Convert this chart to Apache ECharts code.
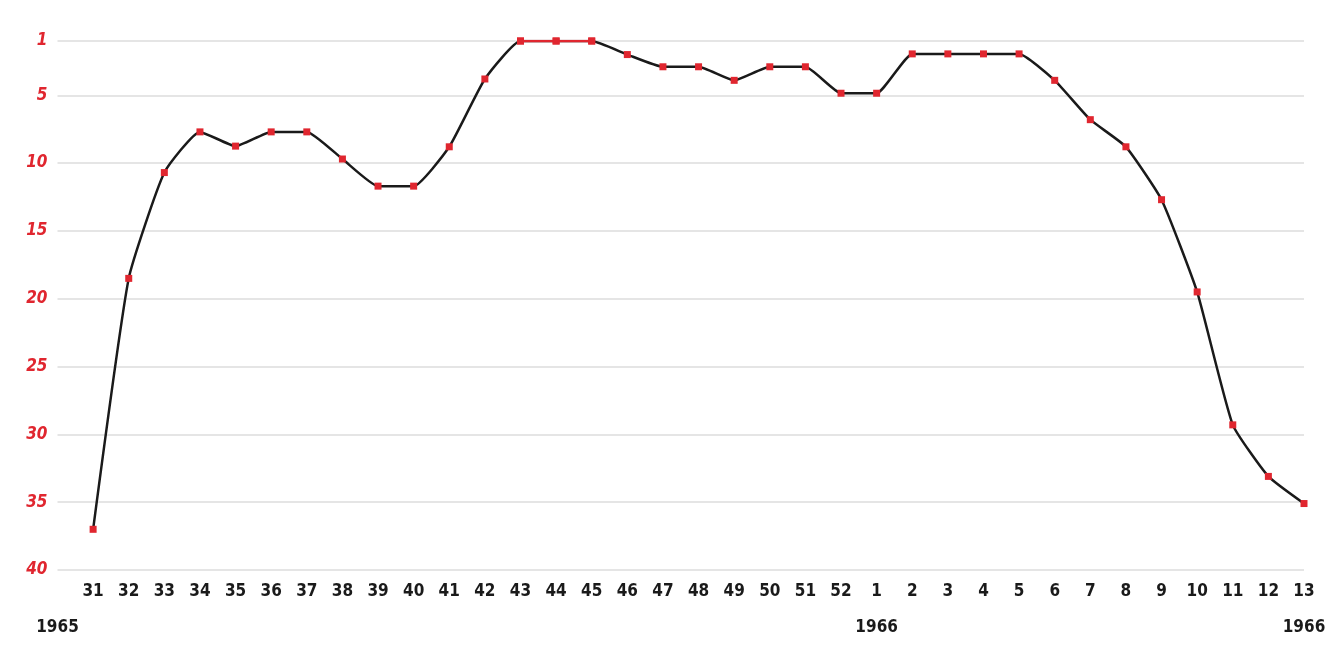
<!DOCTYPE html>
<html>
<head>
<meta charset="utf-8">
<script src="https://cdn.jsdelivr.net/npm/echarts@6/dist/echarts.min.js"></script>
<style>
  html, body { margin: 0; padding: 0; background: #ffffff; }
  #chart { width: 1333px; height: 667px; }
</style>
</head>
<body>
<div id="chart"></div>
<script>
// Week numbers (1965 wk 31 .. 1966 wk 13)
const weeks = ['31','32','33','34','35','36','37','38','39','40','41','42','43','44','45','46','47','48','49','50','51','52',
               '1','2','3','4','5','6','7','8','9','10','11','12','13'];
// Chart position per week
const ranks = [37, 18.5, 10.7, 7.7, 8.75, 7.7, 7.7, 9.7, 11.7, 11.7, 8.8, 3.8, 1, 1, 1, 2, 2.9, 2.9, 3.9, 2.9, 2.9, 4.85,
               4.85, 1.95, 1.95, 1.95, 1.95, 3.9, 6.8, 8.8, 12.7, 19.5, 29.3, 33.1, 35.1];
// Y-axis tick labels
const yTicks = [1, 5, 10, 15, 20, 25, 30, 35, 40];
// Year labels and the week they sit under ('' = the start of the axis)
const yearLabels = ['1965', '1966', '1966'];
const yearAtWeek = ['', '1', '13'];

const cats = [''].concat(weeks);
const lineData = [null].concat(ranks);
const topData = lineData.map(v => (v !== null && v <= 1 ? v : null));
const yearCats = cats.map((c, i) => {
  if (i === 0) return yearLabels[yearAtWeek.indexOf('')];
  const k = yearAtWeek.indexOf(c);
  return k >= 0 ? yearLabels[k] : '';
});

const FONT = '"Liberation Sans Narrow", "DejaVu Sans Condensed", "Roboto", sans-serif';
const RED = '#e0262f';

const chart = echarts.init(document.getElementById('chart'));
chart.setOption({
  animation: false,
  backgroundColor: '#ffffff',
  grid: { left: 57.5, right: 29, top: 41, bottom: 97, containLabel: false },
  xAxis: [
    {
      type: 'category',
      data: cats,
      boundaryGap: false,
      axisLine: { show: false },
      axisTick: { show: false },
      splitLine: { show: false },
      axisLabel: {
        interval: 0, margin: 13,
        color: '#1a1a1a', fontFamily: FONT, fontWeight: 'bold', fontSize: 17
      }
    },
    {
      type: 'category',
      data: yearCats,
      boundaryGap: false,
      position: 'bottom',
      offset: 36,
      axisLine: { show: false },
      axisTick: { show: false },
      splitLine: { show: false },
      axisLabel: {
        interval: 0, margin: 13,
        color: '#1a1a1a', fontFamily: FONT, fontWeight: 'bold', fontSize: 17
      }
    }
  ],
  yAxis: {
    type: 'value',
    inverse: true,
    min: 1,
    max: 40,
    axisLine: { show: false },
    axisTick: { show: false, customValues: yTicks },
    splitLine: { show: true, lineStyle: { color: '#dcdcdc', width: 1.5 } },
    axisLabel: {
      customValues: yTicks,
      margin: 10,
      color: RED, fontFamily: FONT, fontWeight: 'bold', fontStyle: 'italic', fontSize: 17
    }
  },
  series: [
    {
      type: 'line',
      data: lineData,
      smooth: 0.15,
      symbol: 'rect',
      symbolSize: 7,
      itemStyle: { color: RED },
      lineStyle: { color: '#1a1a1a', width: 2.5 },
      z: 2
    },
    {
      type: 'line',
      data: topData,
      symbol: 'rect',
      symbolSize: 7,
      itemStyle: { color: RED },
      lineStyle: { color: RED, width: 2.5 },
      z: 3
    }
  ]
});
</script>
</body>
</html>
